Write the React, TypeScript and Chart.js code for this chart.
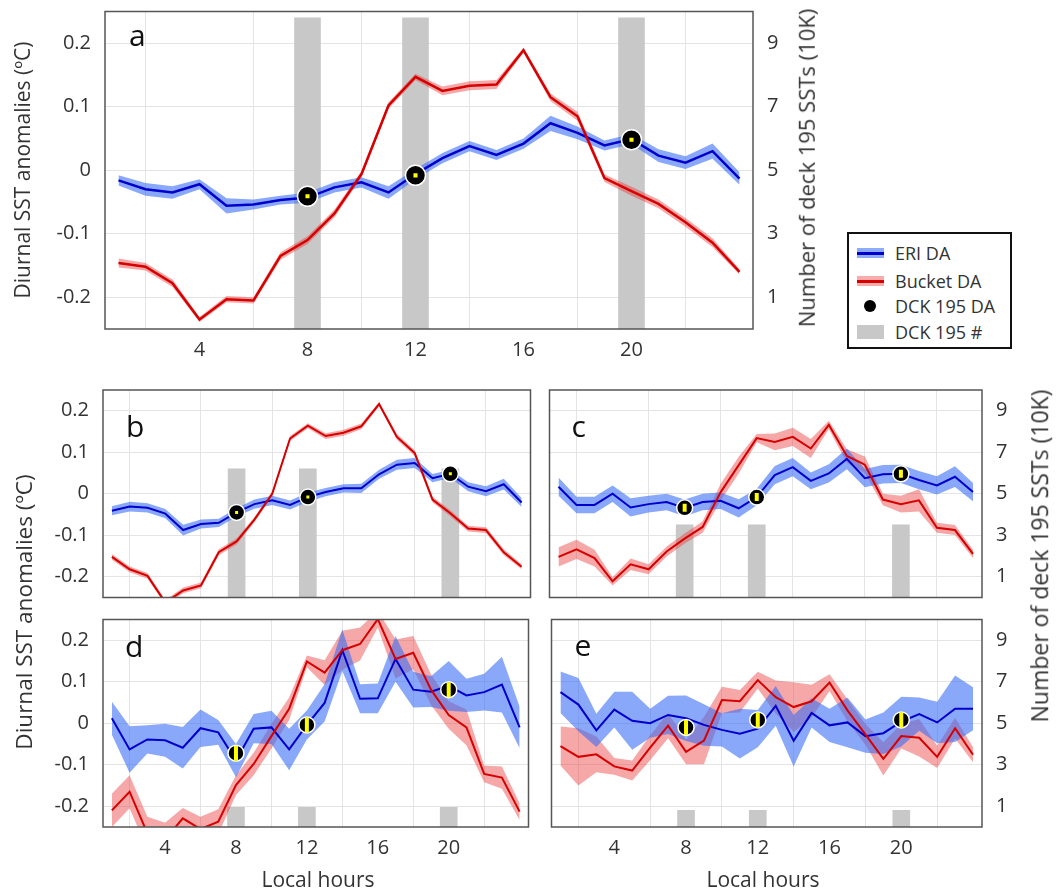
import React, { useEffect, useRef } from "react";
import { Chart, registerables } from "chart.js";

Chart.register(...registerables);

// ---------- data ----------
const HOURS = [1, 2, 3, 4, 5, 6, 7, 8, 9, 10, 11, 12, 13, 14, 15, 16, 17, 18, 19, 20, 21, 22, 23, 24];
const DCK_HOURS = [8, 12, 20];
const X_TICKS = [4, 8, 12, 16, 20];
const Y_TICKS = [-0.2, -0.1, 0, 0.1, 0.2];
const Y2_TICKS = [1, 3, 5, 7, 9];

// panel a
const A_ERI = [-0.016, -0.03, -0.035, -0.022, -0.056, -0.054, -0.047, -0.043, -0.027, -0.019, -0.035, -0.006, 0.019, 0.038, 0.024, 0.042, 0.074, 0.059, 0.039, 0.049, 0.023, 0.012, 0.03, -0.013];
const A_ERI_ERR = [0.008, 0.01, 0.01, 0.008, 0.012, 0.008, 0.007, 0.008, 0.008, 0.008, 0.01, 0.008, 0.008, 0.008, 0.008, 0.008, 0.012, 0.01, 0.008, 0.008, 0.01, 0.01, 0.012, 0.01];
const A_BUCKET = [-0.146, -0.152, -0.178, -0.235, -0.203, -0.205, -0.135, -0.11, -0.068, -0.006, 0.102, 0.147, 0.125, 0.133, 0.135, 0.189, 0.115, 0.085, -0.0125, -0.033, -0.053, -0.082, -0.114, -0.16];
const A_BUCKET_ERR = [0.007, 0.006, 0.006, 0.004, 0.005, 0.005, 0.006, 0.006, 0.006, 0.005, 0.005, 0.005, 0.007, 0.007, 0.007, 0.004, 0.006, 0.007, 0.006, 0.007, 0.007, 0.007, 0.007, 0.004];
const A_DCK = [-0.041, -0.008, 0.048];
const A_COUNT = [9.8, 9.8, 9.8];

// panel b
const B_ERI = [-0.041, -0.031, -0.034, -0.048, -0.0875, -0.073, -0.07, -0.045, -0.025, -0.016, -0.027, -0.008, 0.004, 0.013, 0.013, 0.047, 0.07, 0.074, 0.0375, 0.048, 0.017, 0.006, 0.023, -0.021];
const B_ERI_ERR = [0.011, 0.012, 0.011, 0.011, 0.013, 0.011, 0.01, 0.01, 0.011, 0.011, 0.011, 0.011, 0.01, 0.01, 0.011, 0.011, 0.012, 0.012, 0.01, 0.01, 0.011, 0.012, 0.013, 0.011];
const B_BUCKET = [-0.152, -0.182, -0.198, -0.262, -0.233, -0.221, -0.141, -0.115, -0.0625, 0.0, 0.133, 0.164, 0.139, 0.147, 0.1625, 0.216, 0.137, 0.098, -0.014, -0.047, -0.084, -0.0875, -0.141, -0.176];
const B_BUCKET_ERR = [0.007, 0.007, 0.007, 0.006, 0.007, 0.007, 0.007, 0.007, 0.006, 0.006, 0.006, 0.006, 0.007, 0.007, 0.007, 0.005, 0.007, 0.007, 0.007, 0.007, 0.007, 0.007, 0.007, 0.006];
const B_DCK = [-0.045, -0.008, 0.048];
const B_COUNT = [6.2, 6.2, 6.2];

// panel c
const C_ERI = [0.017, -0.027, -0.027, 0.0, -0.033, -0.025, -0.02, -0.034, -0.02, -0.017, -0.035, -0.008, 0.045, 0.064, 0.031, 0.049, 0.084, 0.0375, 0.047, 0.048, 0.033, 0.02, 0.041, 0.004];
const C_ERI_ERR = [0.022, 0.02, 0.02, 0.02, 0.022, 0.02, 0.02, 0.02, 0.02, 0.02, 0.022, 0.02, 0.022, 0.022, 0.02, 0.022, 0.025, 0.022, 0.022, 0.022, 0.022, 0.022, 0.025, 0.022];
const C_BUCKET = [-0.152, -0.134, -0.155, -0.211, -0.17, -0.182, -0.139, -0.108, -0.08, 0.004, 0.069, 0.134, 0.125, 0.137, 0.109, 0.166, 0.091, 0.07, -0.014, -0.025, -0.016, -0.082, -0.0875, -0.145];
const C_BUCKET_ERR = [0.023, 0.023, 0.02, 0.01, 0.014, 0.012, 0.012, 0.012, 0.014, 0.02, 0.02, 0.01, 0.02, 0.022, 0.023, 0.01, 0.016, 0.02, 0.014, 0.02, 0.027, 0.012, 0.012, 0.01];
const C_DCK = [-0.034, -0.008, 0.048];
const C_COUNT = [3.5, 3.5, 3.5];

// panel d
const D_ERI = [0.012, -0.063, -0.039, -0.041, -0.059, -0.012, -0.022, -0.09, -0.013, -0.01, -0.063, -0.004, 0.049, 0.176, 0.059, 0.06, 0.155, 0.081, 0.076, 0.09, 0.067, 0.075, 0.093, -0.01];
const D_ERI_ERR = [0.04, 0.056, 0.034, 0.04, 0.05, 0.045, 0.03, 0.04, 0.035, 0.04, 0.05, 0.035, 0.045, 0.05, 0.035, 0.036, 0.055, 0.043, 0.037, 0.06, 0.04, 0.044, 0.067, 0.05];
const D_BUCKET = [-0.21, -0.165, -0.265, -0.28, -0.229, -0.255, -0.237, -0.149, -0.098, -0.031, 0.035, 0.149, 0.122, 0.176, 0.191, 0.251, 0.155, 0.17, 0.081, 0.02, -0.01, -0.122, -0.131, -0.213];
const D_BUCKET_ERR = [0.04, 0.04, 0.04, 0.04, 0.025, 0.03, 0.03, 0.024, 0.027, 0.03, 0.027, 0.014, 0.03, 0.047, 0.04, 0.02, 0.047, 0.04, 0.037, 0.033, 0.043, 0.02, 0.027, 0.02];
const D_DCK = [-0.072, -0.004, 0.081];
const D_COUNT = [0.95, 0.95, 0.95];

// panel e
const E_ERI = [0.075, 0.045, -0.017, 0.033, 0.006, 0.0, 0.02, 0.012, -0.004, -0.016, -0.025, -0.013, 0.042, -0.042, 0.025, -0.005, 0.002, -0.031, -0.024, 0.004, 0.022, 0.002, 0.035, 0.035];
const E_ERI_ERR = [0.05, 0.064, 0.04, 0.043, 0.07, 0.035, 0.046, 0.055, 0.05, 0.04, 0.06, 0.045, 0.048, 0.062, 0.035, 0.04, 0.06, 0.04, 0.05, 0.06, 0.04, 0.05, 0.08, 0.052];
const E_BUCKET = [-0.055, -0.081, -0.075, -0.104, -0.114, -0.059, -0.006, -0.069, -0.042, 0.056, 0.053, 0.104, 0.063, 0.039, 0.053, 0.098, 0.031, -0.027, -0.086, -0.031, -0.035, -0.081, -0.012, -0.076];
const E_BUCKET_ERR = [0.047, 0.069, 0.043, 0.02, 0.024, 0.03, 0.03, 0.03, 0.057, 0.032, 0.027, 0.02, 0.04, 0.06, 0.04, 0.02, 0.027, 0.025, 0.04, 0.03, 0.045, 0.027, 0.025, 0.018];
const E_DCK = [-0.01, 0.008, 0.008];
const E_COUNT = [0.8, 0.8, 0.8];

// ---------- styles ----------
const FONT = "'Open Sans', 'DejaVu Sans', sans-serif";
const TEXT = "#333";
const BLUE = "rgb(0,0,205)";
const BLUE_BAND = "rgba(60,110,245,0.6)";
const RED = "rgb(215,0,0)";
const RED_BAND = "rgba(235,60,60,0.45)";
const BAR = "rgb(200,200,200)";
const GRID = "#e4e4e4";

type Mark = { style: string; r: number; bw: number; rot: number };
type PanelDef = {
  letter: string;
  eri: number[]; eriErr: number[]; bucket: number[]; bucketErr: number[]; dck: number[]; count: number[];
  canvas: { left: number; top: number; w: number; h: number };
  plot: { l: number; t: number; r: number; b: number };
  showY: boolean; showY2: boolean; showX: boolean;
  dotR: number; barW: number; mark: Mark; lineW: number;
  letterPos: { dx: number; dy: number };
};

const PANELS: PanelDef[] = [
  {
    letter: "a", eri: A_ERI, eriErr: A_ERI_ERR, bucket: A_BUCKET, bucketErr: A_BUCKET_ERR, dck: A_DCK, count: A_COUNT,
    canvas: { left: 0, top: 0, w: 800, h: 372 }, plot: { l: 105, t: 9, r: 753, b: 329 },
    showY: true, showY2: true, showX: true, dotR: 10, barW: 26,
    mark: { style: "rect", r: 2.9, bw: 0, rot: 0 }, lineW: 2.5, letterPos: { dx: 24, dy: 34 },
  },
  {
    letter: "b", eri: B_ERI, eriErr: B_ERI_ERR, bucket: B_BUCKET, bucketErr: B_BUCKET_ERR, dck: B_DCK, count: B_COUNT,
    canvas: { left: 0, top: 375, w: 540, h: 232 }, plot: { l: 103, t: 390, r: 535, b: 603 },
    showY: true, showY2: false, showX: false, dotR: 8, barW: 17,
    mark: { style: "rect", r: 2.1, bw: 0, rot: 0 }, lineW: 2, letterPos: { dx: 23, dy: 47 },
  },
  {
    letter: "c", eri: C_ERI, eriErr: C_ERI_ERR, bucket: C_BUCKET, bucketErr: C_BUCKET_ERR, dck: C_DCK, count: C_COUNT,
    canvas: { left: 540, top: 375, w: 518, h: 232 }, plot: { l: 548, t: 390, r: 982, b: 603 },
    showY: false, showY2: true, showX: false, dotR: 8, barW: 17,
    mark: { style: "line", r: 4, bw: 4, rot: 90 }, lineW: 2, letterPos: { dx: 22, dy: 47 },
  },
  {
    letter: "d", eri: D_ERI, eriErr: D_ERI_ERR, bucket: D_BUCKET, bucketErr: D_BUCKET_ERR, dck: D_DCK, count: D_COUNT,
    canvas: { left: 0, top: 608, w: 540, h: 262 }, plot: { l: 103, t: 613, r: 535, b: 827 },
    showY: true, showY2: false, showX: true, dotR: 8, barW: 17,
    mark: { style: "line", r: 7.5, bw: 4, rot: 90 }, lineW: 2, letterPos: { dx: 22, dy: 37 },
  },
  {
    letter: "e", eri: E_ERI, eriErr: E_ERI_ERR, bucket: E_BUCKET, bucketErr: E_BUCKET_ERR, dck: E_DCK, count: E_COUNT,
    canvas: { left: 540, top: 608, w: 518, h: 262 }, plot: { l: 548, t: 613, r: 982, b: 827 },
    showY: false, showY2: true, showX: true, dotR: 8, barW: 17,
    mark: { style: "line", r: 7.5, bw: 4, rot: 90 }, lineW: 2, letterPos: { dx: 23, dy: 36 },
  },
];

function Panel({ p }: { p: PanelDef }) {
  const ref = useRef<HTMLCanvasElement>(null);
  useEffect(() => {
    const cv = ref.current;
    if (!cv) return;
    const yW = p.plot.l - p.canvas.left;
    const y2W = p.canvas.left + p.canvas.w - p.plot.r;
    const padT = p.plot.t - p.canvas.top;
    const xH = p.canvas.top + p.canvas.h - p.plot.b;

    const series = (vals: number[]) => HOURS.map((h, i) => ({ x: h, y: vals[i] }));
    const band = (vals: number[], errs: number[], s: number) =>
      HOURS.map((h, i) => ({ x: h, y: vals[i] + s * errs[i] }));
    const dckPts = DCK_HOURS.map((h, i) => ({ x: h, y: p.dck[i] }));
    const barPts = DCK_HOURS.map((h, i) => ({ x: h, y: p.count[i] }));

    const noPt = { pointRadius: 0, pointHoverRadius: 0 };
    const datasets: any[] = [
      {
        label: "DCK 195 DA err", data: dckPts, showLine: false, pointStyle: p.mark.style,
        pointRotation: p.mark.rot, pointRadius: p.mark.r, pointBackgroundColor: "#ffff00",
        pointBorderColor: "#ffff00", pointBorderWidth: p.mark.bw, order: 0,
      },
      {
        label: "DCK 195 DA", data: dckPts, showLine: false, pointStyle: "circle",
        pointRadius: p.dotR, pointBackgroundColor: "#000", pointBorderColor: "#fff",
        pointBorderWidth: 1.5, order: 1,
      },
      { label: "Bucket DA", data: series(p.bucket), borderColor: RED, borderWidth: p.lineW, fill: false, tension: 0, ...noPt, order: 2 },
      { label: "ERI DA", data: series(p.eri), borderColor: BLUE, borderWidth: p.lineW, fill: false, tension: 0, ...noPt, order: 3 },
      { label: "eri hi", data: band(p.eri, p.eriErr, 1), borderWidth: 0, borderColor: "rgba(0,0,0,0)", backgroundColor: BLUE_BAND, fill: "+1", ...noPt, order: 4 },
      { label: "eri lo", data: band(p.eri, p.eriErr, -1), borderWidth: 0, borderColor: "rgba(0,0,0,0)", fill: false, ...noPt, order: 4 },
      { label: "bk hi", data: band(p.bucket, p.bucketErr, 1), borderWidth: 0, borderColor: "rgba(0,0,0,0)", backgroundColor: RED_BAND, fill: "+1", ...noPt, order: 5 },
      { label: "bk lo", data: band(p.bucket, p.bucketErr, -1), borderWidth: 0, borderColor: "rgba(0,0,0,0)", fill: false, ...noPt, order: 5 },
      { type: "bar", label: "DCK 195 #", data: barPts, yAxisID: "y2", backgroundColor: BAR, borderWidth: 0, barThickness: p.barW, order: 10 },
    ];

    const tickFont = { family: FONT, size: 20 };
    const fixV = (w: number) => (s: any) => {
      s.width = w;
      s.paddingTop = 0;
      s.paddingBottom = 0;
    };

    const framePlugin = {
      id: "frame",
      afterDatasetsDraw(chart: any) {
        const { ctx, chartArea: a } = chart;
        ctx.save();
        ctx.fillStyle = "#111";
        ctx.font = `30px ${FONT}`;
        ctx.textBaseline = "alphabetic";
        ctx.textAlign = "left";
        ctx.fillText(p.letter, a.left + p.letterPos.dx, a.top + p.letterPos.dy);
        ctx.restore();
      },
      afterDraw(chart: any) {
        const { ctx, chartArea: a } = chart;
        ctx.save();
        ctx.strokeStyle = "#555";
        ctx.lineWidth = 1.5;
        ctx.strokeRect(a.left, a.top, a.right - a.left, a.bottom - a.top);
        ctx.restore();
      },
    };

    const chart = new Chart(cv, {
      type: "line",
      data: { datasets },
      options: {
        animation: false,
        responsive: false,
        events: [],
        layout: { padding: { top: padT, left: 0, right: 0, bottom: 0 } },
        plugins: { legend: { display: false }, tooltip: { enabled: false } },
        scales: {
          x: {
            type: "linear", min: 0.5, max: 24.5, offset: false,
            afterBuildTicks: (s: any) => { s.ticks = X_TICKS.map((v) => ({ value: v })); },
            afterFit: (s: any) => { s.height = xH; s.paddingLeft = 0; s.paddingRight = 0; },
            grid: { color: GRID, lineWidth: 1, drawTicks: false },
            border: { display: false },
            ticks: { display: p.showX, font: tickFont, color: TEXT, padding: 9, maxRotation: 0 },
          },
          y: {
            type: "linear", position: "left", min: -0.25, max: 0.25,
            afterBuildTicks: (s: any) => { s.ticks = Y_TICKS.map((v) => ({ value: v })); },
            afterFit: fixV(yW),
            grid: { color: GRID, lineWidth: 1, drawTicks: false },
            border: { display: false },
            ticks: { display: p.showY, font: tickFont, color: TEXT, padding: 14, callback: (v: any) => String(Math.round(v * 10) / 10) },
          },
          y2: {
            type: "linear", position: "right", min: 0, max: 10,
            afterBuildTicks: (s: any) => { s.ticks = Y2_TICKS.map((v) => ({ value: v })); },
            afterFit: fixV(y2W),
            grid: { display: false, drawTicks: false },
            border: { display: false },
            ticks: { display: p.showY2, font: tickFont, color: TEXT, padding: 14 },
          },
        },
      } as any,
      plugins: [framePlugin],
    } as any);
    return () => chart.destroy();
  }, [p]);
  return (
    <canvas
      ref={ref}
      width={p.canvas.w}
      height={p.canvas.h}
      style={{ position: "absolute", left: p.canvas.left, top: p.canvas.top, width: p.canvas.w, height: p.canvas.h }}
    />
  );
}

function VTitle({ text, cx, cy, size }: { text: string; cx: number; cy: number; size: number }) {
  return (
    <div
      style={{
        position: "absolute", left: cx, top: cy, transform: "translate(-50%,-50%) rotate(-90deg)",
        whiteSpace: "nowrap", fontFamily: FONT, fontSize: size, color: TEXT, lineHeight: 1.2,
      }}
    >
      {text}
    </div>
  );
}

function HTitle({ text, cx, cy, size }: { text: string; cx: number; cy: number; size: number }) {
  return (
    <div
      style={{
        position: "absolute", left: cx, top: cy, transform: "translate(-50%,-50%)",
        whiteSpace: "nowrap", fontFamily: FONT, fontSize: size, color: TEXT, lineHeight: 1.2,
      }}
    >
      {text}
    </div>
  );
}

const LEGEND_ITEMS = ["ERI DA", "Bucket DA", "DCK 195 DA", "DCK 195 #"];

function Legend() {
  const rowY = [19, 47, 72, 98];
  const marker = (i: number) => {
    const base: React.CSSProperties = { position: "absolute", left: 8 };
    if (i === 0 || i === 1) {
      return (
        <div style={{ ...base, top: rowY[i] - 5, width: 27, height: 10, background: i === 0 ? "rgb(140,172,250)" : "rgb(248,172,172)" }}>
          <div style={{ position: "absolute", left: 0, top: 3.5, width: 27, height: 3, background: i === 0 ? BLUE : RED }} />
        </div>
      );
    }
    if (i === 2) {
      return <div style={{ ...base, left: 15, top: rowY[i] - 6, width: 12, height: 12, borderRadius: 6, background: "#000" }} />;
    }
    return <div style={{ ...base, top: rowY[i] - 7, width: 27, height: 14, background: BAR }} />;
  };
  return (
    <div
      style={{
        position: "absolute", left: 847, top: 232, width: 161, height: 113, border: "2px solid #111",
        background: "#fff", fontFamily: FONT, fontSize: 18, color: TEXT,
      }}
    >
      {LEGEND_ITEMS.map((t, i) => (
        <React.Fragment key={t}>
          {marker(i)}
          <div style={{ position: "absolute", left: 46, top: rowY[i] - 12, lineHeight: "24px", whiteSpace: "nowrap" }}>{t}</div>
        </React.Fragment>
      ))}
    </div>
  );
}

export default function App() {
  return (
    <div style={{ position: "absolute", left: 0, top: 0, width: 1058, height: 893, background: "#fff", overflow: "hidden" }}>
      {PANELS.map((p) => (
        <Panel key={p.letter} p={p} />
      ))}
      <VTitle text="Diurnal SST anomalies (ºC)" cx={23} cy={170} size={21} />
      <VTitle text="Number of deck 195 SSTs (10K)" cx={806} cy={168} size={22} />
      <VTitle text="Diurnal SST anomalies (ºC)" cx={23} cy={612} size={22.5} />
      <VTitle text="Number of deck 195 SSTs (10K)" cx={1040} cy={556} size={23} />
      <HTitle text="Local hours" cx={318} cy={880} size={21} />
      <HTitle text="Local hours" cx={763} cy={880} size={21} />
      <Legend />
    </div>
  );
}
